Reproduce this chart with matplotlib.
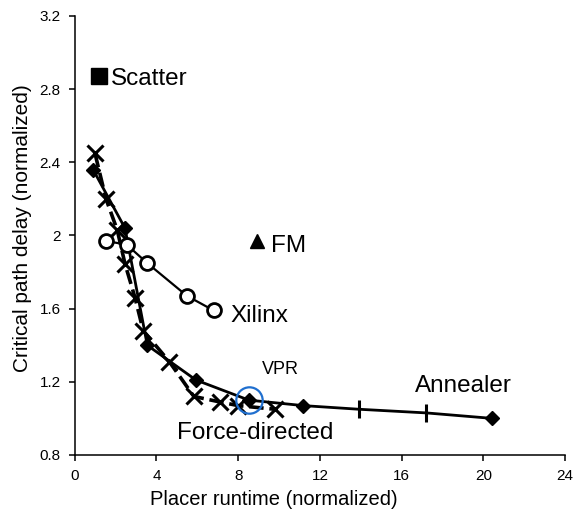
import matplotlib
matplotlib.use("Agg")
import matplotlib.pyplot as plt

plt.rcParams["font.family"] = ["Liberation Sans", "DejaVu Sans"]

# Annealer (solid, diamonds) — VPR point at ~8.5
anneal_x = [0.9, 2.46, 3.55, 5.93, 8.52, 11.18, 13.92, 17.21, 20.44]
anneal_y = [2.36, 2.04, 1.40, 1.21, 1.10, 1.07, 1.05, 1.03, 1.00]
anneal_tick_x = [13.92, 17.21]
anneal_tick_y = [1.05, 1.03]
anneal_dia_x = [0.9, 2.46, 3.55, 5.93, 8.52, 11.18, 20.44]
anneal_dia_y = [2.36, 2.04, 1.40, 1.21, 1.10, 1.07, 1.00]

# Force-directed (dashed, x markers)
force_x = [0.99, 1.53, 2.08, 2.46, 2.95, 3.35, 4.63, 5.83, 7.1, 8.0, 9.8]
force_y = [2.45, 2.20, 2.03, 1.845, 1.66, 1.48, 1.31, 1.12, 1.09, 1.07, 1.05]

# Xilinx (solid, open circles)
xilinx_x = [1.53, 2.54, 3.54, 5.49, 6.80]
xilinx_y = [1.97, 1.95, 1.85, 1.67, 1.59]

scatter_pt = (1.2, 2.87)
fm_pt = (8.9, 1.97)
vpr_pt = (8.52, 1.10)

fig = plt.figure(figsize=(5.73, 5.09), dpi=100)
ax = fig.add_axes([0.1304, 0.1061, 0.856, 0.8625])

ax.plot(force_x, force_y, color="black", lw=2.6, ls=(0, (4, 1.6)),
        marker="x", ms=12, mew=2.2, zorder=3)
ax.plot(anneal_x, anneal_y, color="black", lw=2.0, zorder=4)
ax.plot(anneal_dia_x, anneal_dia_y, ls="none", color="black",
        marker="D", ms=7.5, zorder=5)
ax.plot(anneal_tick_x, anneal_tick_y, ls="none", color="black",
        marker="|", ms=13, mew=2.2, zorder=5)
ax.plot(xilinx_x, xilinx_y, color="black", lw=1.6, marker="o", ms=10,
        mfc="white", mec="black", mew=2, zorder=4)
ax.plot(*scatter_pt, marker="s", ms=11, color="black", ls="none")
ax.plot(*fm_pt, marker="^", ms=10, color="black", ls="none")
ax.plot(*vpr_pt, marker="o", ms=19, mfc="none", mec="#1f6fcf", mew=1.6,
        ls="none", zorder=6)

lab = dict(fontsize=17.5, va="center", ha="left")
ax.text(1.78, 2.856, "Scatter", **lab)
ax.text(9.6, 1.94, "FM", **lab)
ax.text(7.6, 1.56, "Xilinx", **lab)
ax.text(9.16, 1.265, "VPR", fontsize=13, va="center", ha="left")
ax.text(5.0, 0.92, "Force-directed", **lab)
ax.text(16.65, 1.175, "Annealer", **lab)

ax.set_xlim(0, 24)
ax.set_ylim(0.8, 3.2)
ax.set_xticks(range(0, 25, 4))
ax.set_yticks([0.8, 1.2, 1.6, 2.0, 2.4, 2.8, 3.2])
ax.set_yticklabels(["0.8", "1.2", "1.6", "2", "2.4", "2.8", "3.2"])
ax.tick_params(direction="out", length=4, width=1.1, labelsize=11, pad=6)
for s in ("top", "right"):
    ax.spines[s].set_visible(False)
for s in ("left", "bottom"):
    ax.spines[s].set_linewidth(1.1)

ax.set_xlabel("Placer runtime (normalized)", fontsize=14.5)
ax.set_ylabel("Critical path delay (normalized)", fontsize=15)
ax.xaxis.set_label_coords(0.405, -0.079)
ax.yaxis.set_label_coords(-0.087, 0.517)

fig.savefig("out.png", dpi=100)
